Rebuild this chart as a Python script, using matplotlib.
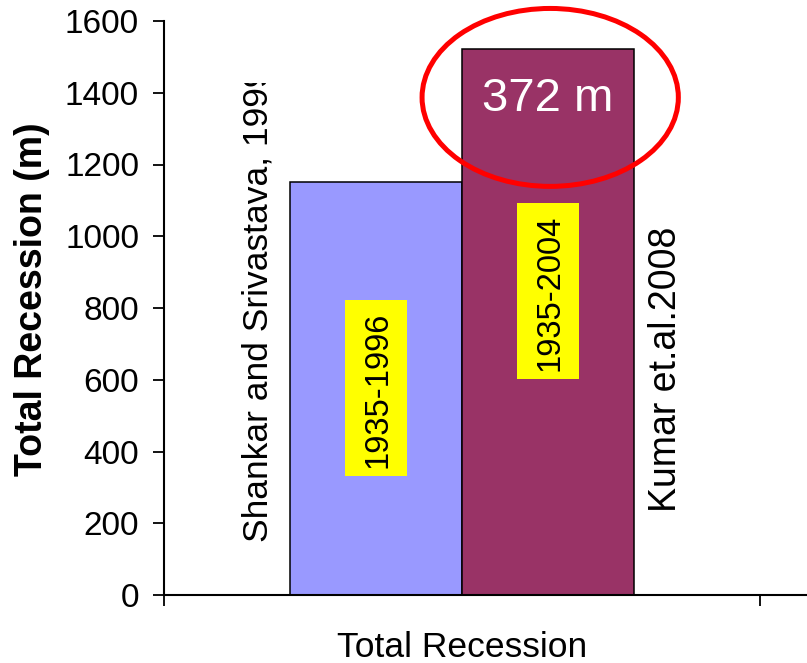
import matplotlib
matplotlib.use("Agg")
import matplotlib.pyplot as plt
from matplotlib.patches import Ellipse, Rectangle
from matplotlib.transforms import Bbox, TransformedBbox

plt.rcParams['font.family'] = ['Liberation Sans', 'DejaVu Sans']

# data
category = "Total Recession"
sources = ["Shankar and Srivastava, 1999", "Kumar et.al.2008"]
periods = ["1935-1996", "1935-2004"]
recession = [1150, 1522]
bar_colors = ["#9999FF", "#993366"]
difference_label = "372 m"

fig = plt.figure(figsize=(8.07, 6.63), dpi=100)
ax = fig.add_axes([164 / 807, 68 / 663, 643 / 807, 574 / 663])

width = 0.288
offsets = [-width / 2, width / 2]
bars = ax.bar(offsets, recession, width=width, color=bar_colors,
              edgecolor="black", linewidth=1.1, zorder=2)

ax.set_xlim(-0.5, -0.5 + 643 / 596)
ax.set_ylim(0, 1600)
ax.set_yticks(range(0, 1601, 200))
ax.tick_params(axis="y", labelsize=24, length=8, width=1.3, direction="out", pad=10)

# category label in the middle, ticks on the category boundaries
ax.set_xticks([0])
ax.set_xticklabels([category])
ax.tick_params(axis="x", which="major", length=0, labelsize=25.5, pad=26)
ax.set_xticks([-0.5, 0.5], minor=True)
ax.tick_params(axis="x", which="minor", length=8, width=1.3, direction="out")

for side in ["top", "right"]:
    ax.spines[side].set_visible(False)
for side in ["left", "bottom"]:
    ax.spines[side].set_linewidth(1.5)

ax.set_ylabel("Total Recession (m)", fontsize=27, fontweight="bold")
ax.yaxis.set_label_coords(-0.178, 0.516)

# source names beside the bars (the first one is cut off at the top)
t1 = ax.text(offsets[0] - width / 2 - 0.054, 148, sources[0], rotation=90,
             ha="center", va="bottom", fontsize=25.5)
clip = TransformedBbox(Bbox([[0, 0], [1, (663 - 83) / 663]]), fig.transFigure)
t1.set_clip_box(clip)
t1.set_clip_path(None)
t1.set_clip_on(True)
ax.text(offsets[1] + width / 2 + 0.055, 231, sources[1], rotation=90,
        ha="center", va="bottom", fontsize=27)

# period labels on yellow boxes inside the bars
period_y = [577, 847]
box_w, box_h = 0.104, 490
for x, lab, yy in zip(offsets, periods, period_y):
    ax.add_patch(Rectangle((x - box_w / 2, yy - box_h / 2), box_w, box_h,
                           facecolor="#FFFF00", edgecolor="none", zorder=3))
    ax.text(x + 0.003, yy - 5, lab, rotation=90, ha="center", va="center",
            fontsize=23.5, zorder=4)

# difference between the two estimates, circled
top = recession[1]
ax.text(offsets[1], top - 140, difference_label, color="white",
        ha="center", va="center", fontsize=34)
ax.add_patch(Ellipse((offsets[1] + 0.004, top - 135), 0.43, 496,
                     fill=False, edgecolor="#FF0000", linewidth=3.6,
                     clip_on=False, zorder=3))

fig.savefig("out.png", dpi=100)
